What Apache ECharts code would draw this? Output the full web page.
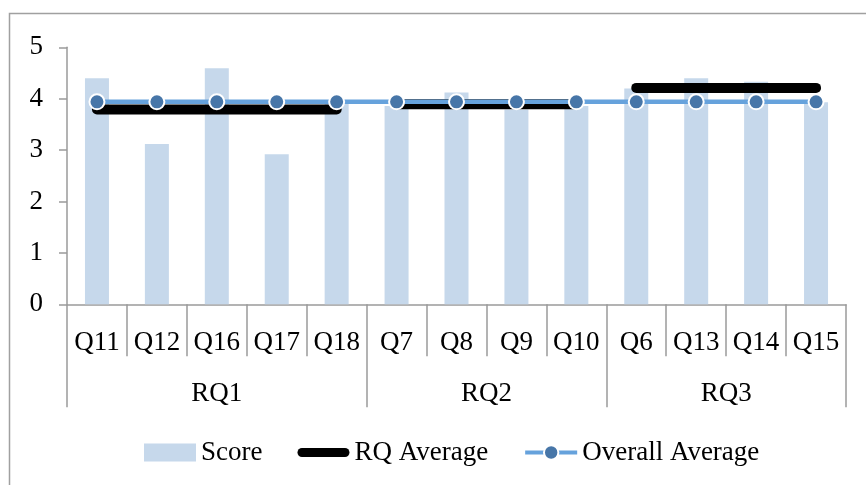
<!DOCTYPE html>
<html>
<head>
<meta charset="utf-8">
<script src="https://cdn.jsdelivr.net/npm/echarts@6/dist/echarts.min.js"></script>
<style>html,body{margin:0;padding:0;background:#fff}#chart{width:866px;height:485px}</style>
</head>
<body>
<div id="chart"></div>
<script>
// ---- data ----
const categories = ['Q11','Q12','Q16','Q17','Q18','Q7','Q8','Q9','Q10','Q6','Q13','Q14','Q15'];
const scores = [4.40, 3.12, 4.59, 2.92, 3.91, 3.86, 4.12, 3.79, 3.86, 4.20, 4.40, 4.33, 3.93];
const groups = ['RQ1', 'RQ2', 'RQ3'];
const groupSizes = [5, 4, 4];
const rqAverages = [3.79, 3.89, 4.21];
const overallAverage = 3.94;
const yTicks = [0, 1, 2, 3, 4, 5];

// ---- derived ----
const FONT = 'Liberation Serif';
const AX = '#9a9a9a';
const boundaries = [0];
groupSizes.forEach(s => boundaries.push(boundaries[boundaries.length - 1] + s));
const groupCenters = groups.map((g, i) => (boundaries[i] + boundaries[i + 1]) / 2);

const rqSeries = groups.map((g, gi) => ({
  name: 'RQ Average',
  type: 'line',
  xAxisIndex: 0,
  data: categories.map((c, i) => (i >= boundaries[gi] && i < boundaries[gi + 1]) ? rqAverages[gi] : '-'),
  showSymbol: false,
  symbol: 'none',
  color: '#000',
  lineStyle: { color: '#000', width: 10, cap: 'round', join: 'round' },
  z: 3,
  silent: true
}));

const chart = echarts.init(document.getElementById('chart'), null, { renderer: 'canvas' });
chart.setOption({
  animation: false,
  backgroundColor: '#fff',
  textStyle: { fontFamily: FONT },
  graphic: [{
    type: 'rect', z: -1,
    shape: { x: 9.5, y: 13.5, width: 900, height: 500 },
    style: { fill: 'none', stroke: '#a0a0a0', lineWidth: 1.5 }
  }],
  grid: { left: 67, right: 20, top: 47.3, bottom: 180.7, containLabel: false },
  legend: {
    left: 139, top: 434,
    itemWidth: 52, itemHeight: 18, itemGap: 35,
    textStyle: { fontFamily: FONT, fontSize: 27, color: '#000' },
    data: [
      { name: 'Score', icon: 'rect' },
      { name: 'RQ Average', icon: 'path://M5,0 H53 A5,5 0 0 1 53,10 H5 A5,5 0 0 1 5,0 Z' },
      { name: 'Overall Average', lineStyle: { width: 4 } }
    ]
  },
  xAxis: [{
    type: 'category',
    data: categories,
    boundaryGap: true,
    axisLine: { lineStyle: { color: AX, width: 1.5 } },
    axisTick: { show: true, interval: 0, length: 52, lineStyle: { color: AX, width: 1.5 } },
    axisLabel: { interval: 0, margin: 25, fontFamily: FONT, fontSize: 27, color: '#000' },
    splitLine: { show: false }
  }, {
    type: 'value',
    position: 'bottom',
    min: 0, max: categories.length,
    axisLine: { show: false },
    axisTick: { show: true, customValues: boundaries, length: 103, lineStyle: { color: AX, width: 1.5 } },
    axisLabel: {
      show: true, customValues: groupCenters, margin: 76,
      fontFamily: FONT, fontSize: 27, color: '#000',
      formatter: v => { const i = groupCenters.indexOf(v); return i >= 0 ? groups[i] : ''; }
    },
    splitLine: { show: false }
  }],
  yAxis: {
    type: 'value',
    min: yTicks[0], max: yTicks[yTicks.length - 1], interval: 1,
    axisLine: { show: true, lineStyle: { color: AX, width: 1.5 } },
    axisTick: { show: true, length: 8, lineStyle: { color: AX, width: 1.5 } },
    axisLabel: { margin: 24, padding: [4, 0, 0, 0], fontFamily: FONT, fontSize: 27, color: '#000' },
    splitLine: { show: false }
  },
  series: [
    {
      name: 'Score', type: 'bar', xAxisIndex: 0,
      data: scores, barWidth: 24,
      itemStyle: { color: '#c6d8eb' },
      color: '#c6d8eb',
      z: 2
    },
    ...rqSeries,
    {
      name: 'Overall Average', type: 'line', xAxisIndex: 0,
      data: categories.map(() => overallAverage),
      symbol: 'circle', symbolSize: 15, showSymbol: true,
      color: '#4776a8',
      lineStyle: { color: '#66a2dc', width: 4.5 },
      itemStyle: { color: '#4776a8', borderColor: '#fff', borderWidth: 2 },
      z: 4
    }
  ]
});
</script>
</body>
</html>
